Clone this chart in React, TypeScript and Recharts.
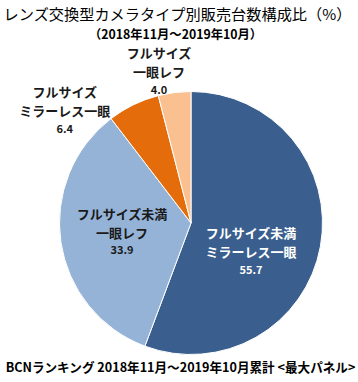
import React from "react";
import { PieChart, Pie, Cell } from "recharts";

const categories = [
  "フルサイズ未満ミラーレス一眼",
  "フルサイズ未満一眼レフ",
  "フルサイズミラーレス一眼",
  "フルサイズ一眼レフ",
];
const categoryLines = [
  ["フルサイズ未満", "ミラーレス一眼"],
  ["フルサイズ未満", "一眼レフ"],
  ["フルサイズ", "ミラーレス一眼"],
  ["フルサイズ", "一眼レフ"],
];
const shares = [55.7, 33.9, 6.4, 4.0];
const titleText = "レンズ交換型カメラタイプ別販売台数構成比（%）";
const subtitleText = "（2018年11月～2019年10月）";
const footerText = "BCNランキング 2018年11月～2019年10月累計 <最大パネル>";

const COLORS = ["#3A5F8E", "#95B3D7", "#E46C0A", "#FAC090"];
const LABEL_COLORS = ["#FFFFFF", "#1A1A1A", "#1A1A1A", "#1A1A1A"];
// label placement: radius factor along mid angle + nudge (px)
const LABEL_LAYOUT = [
  { r: 0.51, dx: -6, dy: 17 },
  { r: 0.53, dx: 0, dy: -1 },
  { r: 1.1, dx: -63, dy: 18 },
  { r: 1.15, dx: -13, dy: -1 },
];

const data = categories.map((name, i) => ({ name, value: shares[i], lines: categoryLines[i] }));

const FONT = "'Noto Sans CJK JP', 'Noto Sans', sans-serif";
const RAD = Math.PI / 180;

const renderLabel = (props: any) => {
  const { cx, cy, midAngle, outerRadius, index, value } = props;
  const lay = LABEL_LAYOUT[index];
  const r = outerRadius * lay.r;
  const x = cx + r * Math.cos(-midAngle * RAD) + lay.dx;
  const y = cy + r * Math.sin(-midAngle * RAD) + lay.dy;
  const lines = categoryLines[index];
  const fill = LABEL_COLORS[index];
  return (
    <g key={`lbl-${index}`}>
      <text x={x} y={y - 19} textAnchor="middle" dominantBaseline="central" fill={fill}
        fontFamily={FONT} fontSize={13} fontWeight="bold">{lines[0]}</text>
      <text x={x} y={y} textAnchor="middle" dominantBaseline="central" fill={fill}
        fontFamily={FONT} fontSize={13} fontWeight="bold">{lines[1]}</text>
      <text x={x} y={y + 17} textAnchor="middle" dominantBaseline="central" fill={fill}
        fontFamily={FONT} fontSize={11} fontWeight="bold">{Number(value).toFixed(1)}</text>
    </g>
  );
};

export default function App() {
  return (
    <div style={{ position: "absolute", left: 0, top: 0, width: 358, height: 382, background: "#fff" }}>
      <PieChart width={358} height={382} margin={{ top: 0, right: 0, bottom: 0, left: 0 }}>
        <Pie
          data={data}
          dataKey="value"
          nameKey="name"
          cx={191}
          cy={223}
          outerRadius={131.5}
          startAngle={90}
          endAngle={-270}
          stroke="#FFFFFF"
          strokeWidth={1}
          label={renderLabel}
          labelLine={false}
          isAnimationActive={false}
        >
          {data.map((d, i) => (
            <Cell key={d.name} fill={COLORS[i]} />
          ))}
        </Pie>
      </PieChart>
      <svg width={358} height={382} style={{ position: "absolute", left: 0, top: 0, pointerEvents: "none" }}>
        <text x={177.5} y={13} textAnchor="middle" dominantBaseline="central" fontFamily={FONT}
          fontSize={15.2} fill="#000">{titleText}</text>
        <text x={175.5} y={33.5} textAnchor="middle" dominantBaseline="central" fontFamily={FONT}
          fontSize={12.3} fontWeight="bold" fill="#000">{subtitleText}</text>
        <text x={180.5} y={366} textAnchor="middle" dominantBaseline="central" fontFamily={FONT}
          fontSize={12.6} fontWeight="bold" fill="#000">{footerText}</text>
      </svg>
    </div>
  );
}
